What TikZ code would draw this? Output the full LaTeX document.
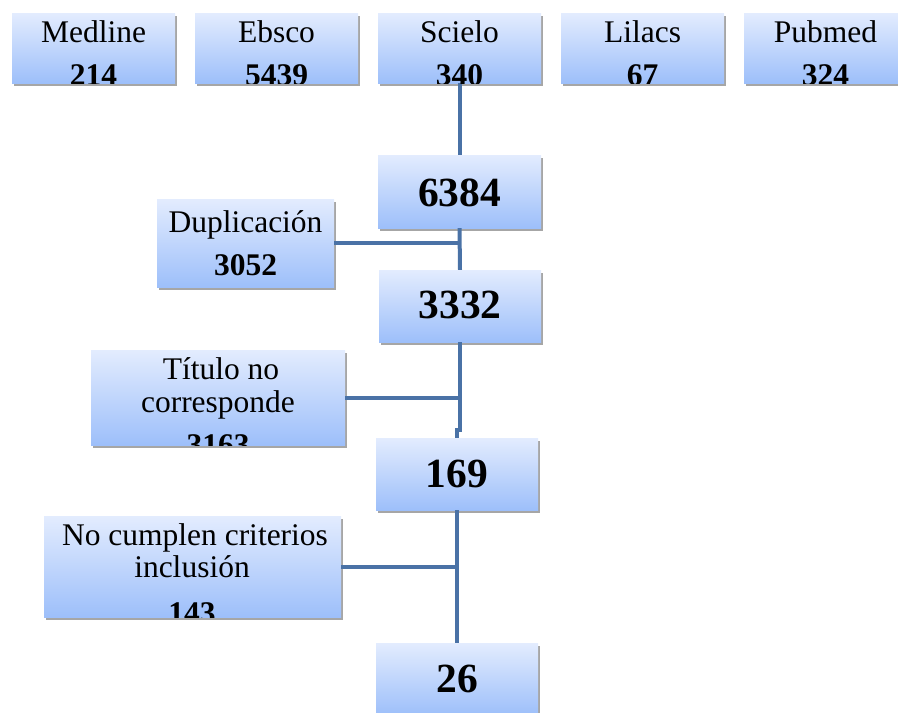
\documentclass[tikz,border=0pt]{standalone}
\usepackage{fontspec}
\setmainfont{Liberation Serif}
\usetikzlibrary{shadows}
\definecolor{boxtop}{HTML}{E3ECFE}
\definecolor{boxbot}{HTML}{9DBFFA}
\definecolor{linkblue}{HTML}{4A72A6}
\tikzset{
  box/.style={rectangle, inner sep=0pt, top color=boxtop, bottom color=boxbot, draw=none,
    drop shadow={shadow xshift=2pt, shadow yshift=-3pt, opacity=0.35, fill=black}},
  lab/.style={anchor=base, inner sep=0pt, font=\fontsize{31.5}{33}\selectfont},
  num/.style={anchor=base, inner sep=0pt, font=\fontsize{31.5}{33}\selectfont\bfseries},
  big/.style={anchor=base, inner sep=0pt, font=\fontsize{41.5}{44}\selectfont\bfseries},
  link/.style={draw=linkblue, line width=4pt}
}
\begin{document}
\begin{tikzpicture}[x=1pt,y=-1pt]
\useasboundingbox (0,0) rectangle (898,713);
% top boxes
\node[box, minimum width=163pt, minimum height=70pt] (med) at (93.5,48) {};
\node[box, minimum width=163pt, minimum height=70pt] (ebs) at (276.5,48) {};
\node[box, minimum width=163pt, minimum height=70pt] (sci) at (459.5,48) {};
\node[box, minimum width=163pt, minimum height=70pt] (lil) at (642.5,48) {};
\node[box, minimum width=163pt, minimum height=70pt] (pub) at (825.5,48) {};
% main column
\node[box, minimum width=163pt, minimum height=73pt] (c6384) at (459.5,191.5) {};
\node[box, minimum width=162pt, minimum height=72pt] (c3332) at (460,306) {};
\node[box, minimum width=162pt, minimum height=72pt] (c169) at (457,474) {};
\node[box, minimum width=162pt, minimum height=72pt] (c26) at (457,679) {};
% side boxes
\node[box, minimum width=177pt, minimum height=88pt] (dup) at (245.5,243) {};
\node[box, minimum width=254pt, minimum height=95pt] (tit) at (218,397.5) {};
\node[box, minimum width=297pt, minimum height=101pt] (nc) at (192.5,566.5) {};
% connectors
\draw[link] (sci.south) -- (c6384.north);
\draw[link] (c6384.south) -- (c3332.north);
\draw[link] (dup.east) -- (dup.east -| c6384.south);
\draw[link] (c3332.south) -- ([yshift=8pt]c3332.south |- c169.north) -| (c169.north);
\draw[link] (tit.east) -- (tit.east -| c3332.south);
\draw[link] (c169.south) -- (c26.north);
\draw[link] (nc.east) -- (nc.east -| c169.south);
% texts (clipped to their boxes)
\begin{scope}\clip (med.south west) rectangle (med.north east);
\node[lab] (tmed) at (93.5,42) {Medline};
\node[num] (nmed) at (93.5,85) {214};
\end{scope}
\begin{scope}\clip (ebs.south west) rectangle (ebs.north east);
\node[lab] (tebs) at (276.5,42) {Ebsco};
\node[num] (nebs) at (276.5,85) {5439};
\end{scope}
\begin{scope}\clip (sci.south west) rectangle (sci.north east);
\node[lab] (tsci) at (459.5,42) {Scielo};
\node[num] (nsci) at (459.5,85) {340};
\end{scope}
\begin{scope}\clip (lil.south west) rectangle (lil.north east);
\node[lab] (tlil) at (642.5,42) {Lilacs};
\node[num] (nlil) at (642.5,85) {67};
\end{scope}
\begin{scope}\clip (pub.south west) rectangle (pub.north east);
\node[lab] (tpub) at (825.5,42) {Pubmed};
\node[num] (npub) at (825.5,85) {324};
\end{scope}
\node[big] (t6384) at (459.5,206) {6384};
\node[big] (t3332) at (460,318) {3332};
\node[big] (t169) at (457,487) {169};
\begin{scope}\clip (c26.south west) rectangle (c26.north east);
\node[big] (t26) at (457,692) {26};
\end{scope}
\node[lab] (tdup) at (245.5,232) {Duplicación};
\node[num] (ndup) at (245.5,275) {3052};
\begin{scope}\clip (tit.south west) rectangle (tit.north east);
\node[lab] (ttit1) at (221,379) {Título no};
\node[lab] (ttit2) at (218,412) {corresponde};
\node[num] (ntit) at (218,455) {3163};
\end{scope}
\begin{scope}\clip (nc.south west) rectangle (nc.north east);
\node[lab] (tnc1) at (195,545) {No cumplen criterios};
\node[lab] (tnc2) at (192,577) {inclusión};
\node[num] (nnc) at (192,623) {143};
\end{scope}
\end{tikzpicture}
\end{document}
